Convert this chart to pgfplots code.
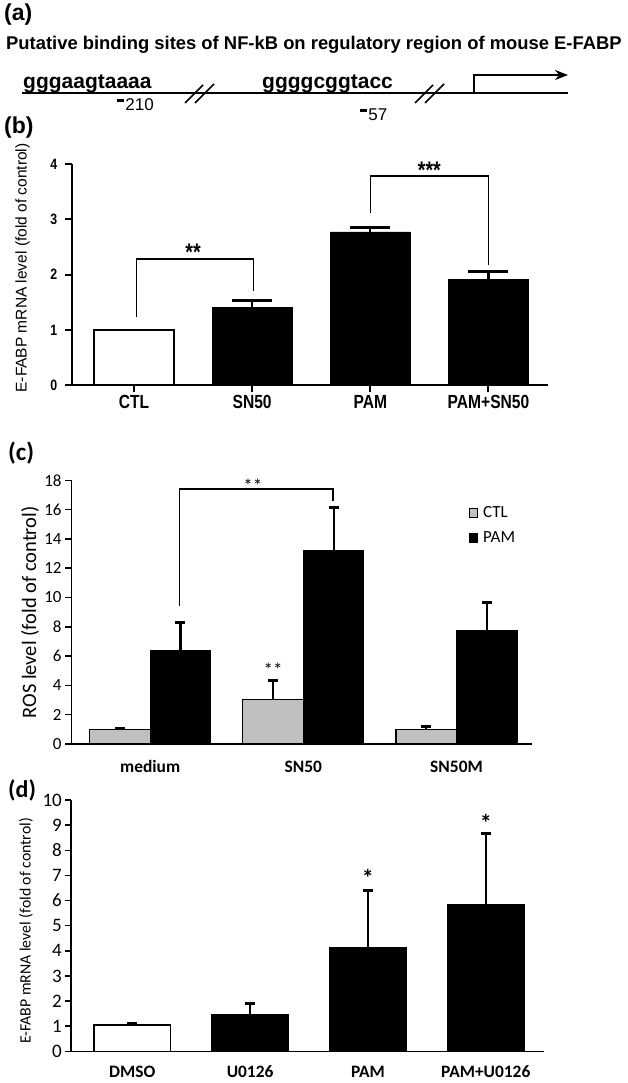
\documentclass[border=0pt]{standalone}
\usepackage{fontspec}
\usepackage{pgfplots}
\pgfplotsset{compat=1.18}
\usetikzlibrary{arrows.meta}
\setmainfont{Liberation Sans}
\newfontfamily\arial{Liberation Sans}
\newfontfamily\narrow[FakeStretch=0.82]{Liberation Sans}
\newfontfamily\calibri{Carlito}
\newcommand\fs[1]{\fontsize{#1pt}{#1pt}\selectfont}
\newcommand\dash{\rule[0.53em]{0.42em}{0.17em}\hspace{0.06em}}
\definecolor{ctlgray}{RGB}{192,192,192}
\pgfplotsset{panel/.style={scale only axis, anchor=south west, axis x line*=bottom, axis y line*=left,
  enlargelimits=false, clip=false, axis on top, tick align=outside, xtick align=outside, ytick align=outside,
  /pgf/number format/assume math mode=true},
  ebar/.style={error bars/y dir=plus, error bars/y explicit, error bars/error mark=|,
  error bars/error bar style={line width=2.2pt, black},
  error bars/error mark options={line width=3pt, mark size=#1, black}}}
\begin{document}
\begin{tikzpicture}[x=1pt,y=1pt]
\path[use as bounding box] (0pt,0pt) rectangle (628pt,1083pt);
% ---------------- (a)
\node[anchor=west, inner sep=0pt, font=\arial\bfseries\fs{23}] at (4,1068) {(a)};
\node[anchor=base west, inner sep=0pt, font=\arial\bfseries\fs{18.4}] at (6,1033) {Putative binding sites of NF-kB on regulatory region of mouse E-FABP};
\draw[line width=2pt] (22,990) -- (568,990);
\draw[line width=2pt, -{Stealth[length=13pt,width=10pt]}] (474,990) -- (474,1008) -- (568,1008);
\node[anchor=base west, inner sep=0pt, font=\arial\bfseries\fs{21}] at (23,994.5) {gggaagtaaaa};
\node[anchor=base west, inner sep=0pt, font=\arial\bfseries\fs{21}] at (262,994.5) {ggggcggtacc};
\node[anchor=base west, inner sep=0pt, font=\arial\fs{17}] at (117,972) {\dash 210};
\node[anchor=base west, inner sep=0pt, font=\arial\fs{17}] at (360,962) {\dash 57};
\draw[line width=1.5pt] (185,980) -- (203,998) (195,980) -- (214,999);
\draw[line width=1.5pt] (415,980) -- (433,998) (425,980) -- (444,999);
% ---------------- (b)
\node[anchor=west, inner sep=0pt, font=\arial\bfseries\fs{23}] at (4,955) {(b)};
\node[rotate=90, inner sep=0pt, font=\arial\fs{15.5}] at (22.5,815) {E-FABP mRNA level (fold of control)};
\begin{axis}[panel, at={(72pt,697.5pt)}, width=476pt, height=221.5pt,
  xmin=-0.525, xmax=3.504, ymin=0, ymax=4, ytick={0,1,2,3,4}, xtick={0,1,2,3},
  xticklabels={CTL,SN50,PAM,PAM+SN50},
  axis line style={line width=2pt},
  every major tick/.append style={draw=black, line width=2pt}, major tick length=7pt,
  yticklabel style={font=\narrow\bfseries\fs{15}, anchor=east, inner sep=0pt, xshift=-7.7pt},
  xticklabel style={font=\narrow\bfseries\fs{19}, anchor=base, inner sep=0pt, yshift=-15.8pt}]
\addplot[ybar, bar width=0.68, bar shift=0pt, fill=white, draw=black, line width=2pt]
  coordinates {(0,1.0)};
\addplot[ybar, bar width=0.68, bar shift=0pt, fill=black, draw=black, line width=0.5pt, ebar=20pt]
  coordinates {(1,1.41) +- (0,0.12) (2,2.776) +- (0,0.08) (3,1.917) +- (0,0.133)};
\pgfplotsinvokeforeach{0,1,2,3,4}{\draw[line width=2pt] (axis cs:-0.525,#1) -- ++(-7pt,0pt);}
\pgfplotsinvokeforeach{0,1,2,3}{\draw[line width=2pt] (axis cs:#1,0) -- ++(0pt,-6pt);}
\draw[line width=1.5pt] (axis cs:0.02,1.23) |- (axis cs:1.01,2.28) -- (axis cs:1.01,1.71);
\draw[line width=1.5pt] (axis cs:2,3.11) |- (axis cs:3,3.78) -- (axis cs:3,2.17);
\node[font=\narrow\bfseries\fs{24}] at (axis cs:0.5,2.40) {**};
\node[font=\narrow\bfseries\fs{24}] at (axis cs:2.5,3.89) {***};
\end{axis}
% ---------------- (c)
\node[anchor=west, inner sep=0pt, font=\calibri\bfseries\fs{25}] at (8,630) {(c)};
\node[rotate=90, inner sep=0pt, font=\calibri\fs{20.5}] at (30,470.5) {ROS level (fold of control)};
\begin{axis}[panel, at={(71.5pt,339pt)}, width=460.5pt, height=263.7pt,
  xmin=-0.514, xmax=2.493, ymin=0, ymax=18, ytick={0,2,...,18}, xtick={0,1,2},
  xticklabels={medium,SN50,SN50M},
  axis line style={line width=1.5pt},
  every major tick/.append style={draw=black, line width=1.5pt}, major tick length=6pt,
  major x tick style={draw=none},
  yticklabel style={font=\calibri\fs{17}, anchor=east, inner sep=0pt, xshift=-3.8pt},
  xticklabel style={font=\calibri\bfseries\fs{17.4}, anchor=base, inner sep=0pt, yshift=-22.3pt},
  legend style={draw=none, fill=none, at={(0.862,0.905)}, anchor=north west,
    font=\calibri\fs{17}, row sep=11pt, inner sep=0pt, nodes={inner sep=1pt}},
  legend cell align=left,
  legend image code/.code={\draw[#1, line width=1pt] (0pt,-4.5pt) rectangle (8pt,4.5pt); \path[draw=none, fill=none] (0pt,0pt) -- (13pt,0pt);}]
\addplot[ybar, bar width=0.395, bar shift=0pt, fill=ctlgray, draw=black, line width=1.2pt, ebar=5pt]
  coordinates {(-0.1975,1.0) +- (0,0.05) (0.8025,3.05) +- (0,1.25) (1.8025,1.0) +- (0,0.22)};
\addlegendentry{CTL}
\addplot[ybar, bar width=0.395, bar shift=0pt, fill=black, draw=black, line width=1.2pt, ebar=5pt]
  coordinates {(0.1975,6.35) +- (0,1.96) (1.1975,13.18) +- (0,2.98) (2.1975,7.74) +- (0,1.9)};
\addlegendentry{PAM}
\pgfplotsinvokeforeach{0,2,4,6,8,10,12,14,16,18}{\draw[line width=1.5pt] (axis cs:-0.514,#1) -- ++(-6pt,0pt);}
\draw[line width=1.5pt] (axis cs:0.19,9.44) |- (axis cs:1.195,17.39) -- (axis cs:1.195,16.6);
\node[font=\calibri\fs{19}] at (axis cs:0.67,17.6) {**};
\node[font=\calibri\fs{19}] at (axis cs:0.8025,5.1) {**};
\end{axis}
% ---------------- (d)
\node[anchor=west, inner sep=0pt, font=\calibri\bfseries\fs{24}] at (8,293) {(d)};
\node[rotate=90, inner sep=0pt, font=\calibri\fs{15.8}] at (26,152) {E-FABP mRNA level (fold of control)};
\begin{axis}[panel, at={(71pt,31.7pt)}, width=473.3pt, height=251.3pt,
  xmin=-0.52, xmax=3.497, ymin=0, ymax=10, ytick={0,1,...,10}, xtick={0,1,2,3},
  xticklabels={DMSO,U0126,PAM,PAM+U0126},
  axis line style={line width=1.5pt},
  every major tick/.append style={draw=black, line width=1.5pt}, major tick length=6pt,
  major x tick style={draw=none},
  yticklabel style={font=\calibri\fs{19}, anchor=east, inner sep=0pt, xshift=-3pt},
  xticklabel style={font=\calibri\bfseries\fs{17.4}, anchor=base, inner sep=0pt, yshift=-19.8pt}]
\addplot[ybar, bar width=0.65, bar shift=0pt, fill=white, draw=black, line width=1.5pt, ebar=5pt]
  coordinates {(0,1.05) +- (0,0.04)};
\addplot[ybar, bar width=0.65, bar shift=0pt, fill=black, draw=black, line width=1.2pt, ebar=5pt]
  coordinates {(1,1.46) +- (0,0.44) (2,4.12) +- (0,2.27) (3,5.84) +- (0,2.81)};
\pgfplotsinvokeforeach{0,1,2,3,4,5,6,7,8,9,10}{\draw[line width=1.5pt] (axis cs:-0.52,#1) -- ++(-6pt,0pt);}
\node[font=\calibri\bfseries\fs{24}] at (axis cs:2,6.9) {*};
\node[font=\calibri\bfseries\fs{24}] at (axis cs:3,9.1) {*};
\end{axis}
\end{tikzpicture}
\end{document}
